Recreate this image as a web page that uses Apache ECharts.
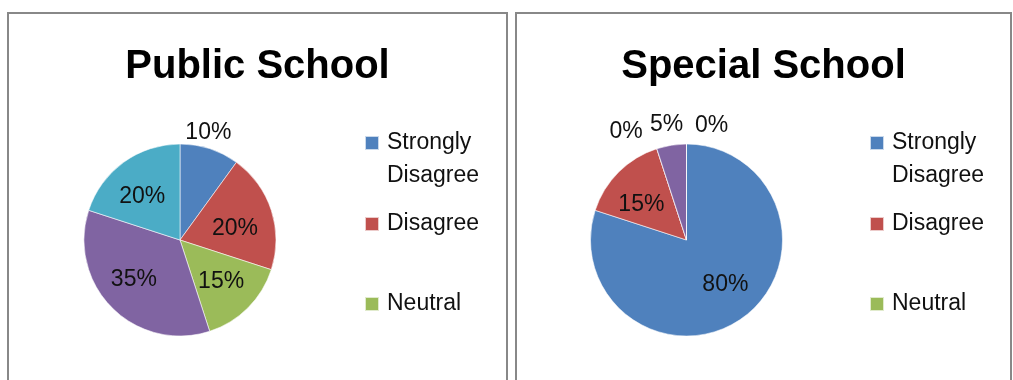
<!DOCTYPE html>
<html>
<head>
<meta charset="utf-8">
<script src="https://cdn.jsdelivr.net/npm/echarts@6/dist/echarts.min.js"></script>
<style>
  html, body { margin: 0; padding: 0; background: #fff; overflow: hidden; }
  #chart { width: 1013px; height: 380px; }
</style>
</head>
<body>
<div id="chart"></div>
<script>
// Survey responses by school type (percent of respondents)
const categories = ['Strongly Disagree', 'Disagree', 'Neutral', 'Agree', 'Strongly Agree'];
const publicValues = [10, 20, 15, 35, 20];
const specialValues = [80, 15, 0, 5, 0];
const titles = ['Public School', 'Special School'];
const legendItems = ['Strongly Disagree', 'Disagree', 'Neutral'];

const palette = ['#4F81BD', '#C0504D', '#9BBB59', '#8064A2', '#4BACC6'];
const FONT = 'Liberation Sans';

// Panel geometry
const panels = [
  { left: 8, right: 507, cx: 180, legendX: 364 },
  { left: 516, right: 1011, cx: 686.5, legendX: 869 }
];
const CY = 240, R = 96;
const INNER_R = 58;   // radius where in-slice labels sit
const OUTER_R = 118;  // radius where out-of-slice labels sit

// Labels that sit outside the pie
const outerLabels = [
  ['Strongly Disagree'],
  ['Neutral', 'Agree', 'Strongly Agree']
];
// Small per-label nudges so crowded labels stay readable
const labelNudge = [
  { 'Strongly Disagree': [-9, 8], 'Disagree': [-3, 8], 'Neutral': [-2, -1],
    'Agree': [-3, -3], 'Strongly Agree': [-2, 6] },
  { 'Strongly Disagree': [3, -5], 'Disagree': [-2, 8], 'Neutral': [-23, 7],
    'Agree': [-1, 4], 'Strongly Agree': [25, 7] }
];

function pctLabel(p) { return p.value + '%'; }

const series = [];
const legends = [];
const titleOpts = [];
const graphics = [];

[publicValues, specialValues].forEach(function (values, pi) {
  const panel = panels[pi];
  const center = [panel.cx, CY];

  // the pie itself
  series.push({
    type: 'pie',
    name: titles[pi],
    center: center,
    radius: R,
    startAngle: 90,
    clockwise: true,
    silent: true,
    animation: false,
    label: { show: false },
    labelLine: { show: false },
    itemStyle: { borderColor: 'rgba(255,255,255,0.7)', borderWidth: 0.8 },
    data: categories.map(function (c, i) {
      return { name: c, value: values[i], itemStyle: { color: palette[i] } };
    })
  });

  const outer = outerLabels[pi];
  const nudge = labelNudge[pi];
  const labelText = { color: '#111', fontFamily: FONT, fontSize: 23 };

  // transparent ring whose mid-radius carries the percentage labels
  function labelRing(midR, wantOuter) {
    return {
      type: 'pie',
      center: center,
      radius: midR * 2,
      startAngle: 90,
      silent: true,
      animation: false,
      avoidLabelOverlap: false,
      itemStyle: { color: 'rgba(0,0,0,0)', borderWidth: 0 },
      labelLine: { show: false },
      label: Object.assign({ position: 'inside', formatter: pctLabel }, labelText),
      data: categories.map(function (c, i) {
        const show = (outer.indexOf(c) >= 0) === wantOuter;
        return { name: c, value: values[i],
                 label: { show: show, offset: nudge[c] || [0, 0] } };
      })
    };
  }
  series.push(labelRing(INNER_R, false));
  series.push(labelRing(OUTER_R, true));

  titleOpts.push({
    text: titles[pi],
    left: (panel.left + panel.right) / 2,
    top: 47,
    padding: 0,
    textAlign: 'center',
    textStyle: { fontFamily: FONT, fontSize: 40, fontWeight: 'bold', color: '#000' }
  });

  // legend entries, one block per entry so each keeps its own slot
  const legendTops = [93.5, 207.5, 287.5];
  legendItems.forEach(function (name, li) {
    legends.push({
      left: panel.legendX,
      top: legendTops[li],
      padding: 0,
      orient: 'vertical',
      icon: 'rect',
      itemWidth: 14,
      itemHeight: 14,
      selectedMode: false,
      // two-word entries wrap; a leading blank line keeps the swatch on the first line
      formatter: function (n) {
        return n.indexOf(' ') > 0 ? '\n' + n.replace(' ', '\n') : n;
      },
      data: [{
        name: name,
        textStyle: {
          fontFamily: FONT, fontSize: 23, lineHeight: 33, color: '#111',
          padding: [0, 0, 0, 3]
        }
      }]
    });
  });

  // panel frame
  graphics.push({
    type: 'rect',
    shape: { x: panel.left, y: 13, width: panel.right - panel.left, height: 420 },
    style: { fill: 'none', stroke: '#888', lineWidth: 2 },
    silent: true
  });
});

const chart = echarts.init(document.getElementById('chart'), null, { renderer: 'canvas' });
chart.setOption({
  animation: false,
  color: palette,
  title: titleOpts,
  legend: legends,
  graphic: graphics,
  series: series
});
</script>
</body>
</html>
